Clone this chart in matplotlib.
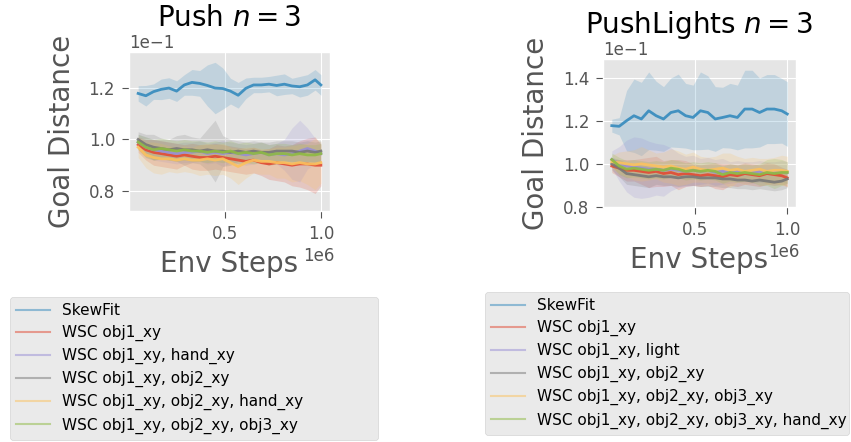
import numpy as np
import matplotlib
matplotlib.use("Agg")
import matplotlib.pyplot as plt

# --- Данные (ось y в единицах 1e-1, ось x в единицах 1e6) ---
steps = [0.05, 0.09, 0.13, 0.17, 0.21, 0.25, 0.29, 0.33, 0.37, 0.41, 0.45, 0.49, 0.53,
         0.57, 0.61, 0.65, 0.69, 0.73, 0.77, 0.81, 0.85, 0.89, 0.93, 0.97, 1.00]

push_labels = ["SkewFit", "WSC obj1_xy", "WSC obj1_xy, hand_xy", "WSC obj1_xy, obj2_xy",
               "WSC obj1_xy, obj2_xy, hand_xy", "WSC obj1_xy, obj2_xy, obj3_xy"]
lights_labels = ["SkewFit", "WSC obj1_xy", "WSC obj1_xy, light", "WSC obj1_xy, obj2_xy",
                 "WSC obj1_xy, obj2_xy, obj3_xy", "WSC obj1_xy, obj2_xy, obj3_xy, hand_xy"]

# Push n=3
push_skewfit = [1.179, 1.170, 1.186, 1.195, 1.200, 1.188, 1.212, 1.222, 1.218, 1.210, 1.200, 1.198, 1.188,
                1.172, 1.199, 1.212, 1.212, 1.215, 1.210, 1.215, 1.208, 1.205, 1.212, 1.232, 1.212]
push_skewfit_sd = [0.03, 0.04, 0.03, 0.04, 0.04, 0.04, 0.04, 0.05, 0.05, 0.08, 0.10, 0.08, 0.05,
                   0.05, 0.04, 0.03, 0.03, 0.03, 0.04, 0.04, 0.03, 0.04, 0.04, 0.04, 0.04]
push_obj1 = [0.98, 0.96, 0.95, 0.945, 0.94, 0.935, 0.94, 0.935, 0.93, 0.93, 0.935, 0.93, 0.925,
             0.92, 0.915, 0.92, 0.91, 0.905, 0.91, 0.905, 0.90, 0.905, 0.905, 0.90, 0.90]
push_obj1_sd = [0.03, 0.04, 0.05, 0.05, 0.05, 0.05, 0.04, 0.05, 0.05, 0.05, 0.05, 0.05, 0.05,
                0.05, 0.05, 0.05, 0.05, 0.06, 0.07, 0.07, 0.08, 0.09, 0.10, 0.11, 0.08]
push_obj1_hand = [0.99, 0.97, 0.96, 0.955, 0.95, 0.945, 0.95, 0.95, 0.955, 0.945, 0.95, 0.945, 0.95,
                  0.945, 0.94, 0.945, 0.95, 0.94, 0.945, 0.94, 0.945, 0.955, 0.965, 0.955, 0.945]
push_obj1_hand_sd = [0.03, 0.04, 0.04, 0.04, 0.04, 0.04, 0.04, 0.04, 0.04, 0.04, 0.04, 0.05, 0.04,
                     0.04, 0.04, 0.04, 0.04, 0.04, 0.04, 0.06, 0.10, 0.12, 0.08, 0.05, 0.04]
push_obj1_obj2 = [1.00, 0.98, 0.97, 0.965, 0.96, 0.965, 0.96, 0.96, 0.955, 0.96, 0.955, 0.955, 0.95,
                  0.955, 0.95, 0.955, 0.95, 0.95, 0.955, 0.955, 0.955, 0.95, 0.955, 0.95, 0.955]
push_obj1_obj2_sd = [0.03, 0.04, 0.05, 0.04, 0.04, 0.05, 0.06, 0.05, 0.05, 0.08, 0.12, 0.06, 0.05,
                     0.04, 0.04, 0.04, 0.04, 0.04, 0.04, 0.04, 0.04, 0.04, 0.04, 0.04, 0.04]
push_obj12_hand = [0.97, 0.94, 0.93, 0.925, 0.925, 0.92, 0.925, 0.92, 0.92, 0.925, 0.92, 0.925, 0.91,
                   0.895, 0.91, 0.92, 0.915, 0.915, 0.91, 0.91, 0.905, 0.91, 0.905, 0.905, 0.91]
push_obj12_hand_sd = [0.04, 0.05, 0.06, 0.06, 0.05, 0.05, 0.05, 0.05, 0.06, 0.06, 0.06, 0.06, 0.06,
                      0.07, 0.06, 0.05, 0.05, 0.05, 0.06, 0.06, 0.07, 0.07, 0.08, 0.10, 0.08]
push_obj123 = [0.99, 0.97, 0.96, 0.965, 0.96, 0.955, 0.96, 0.955, 0.955, 0.95, 0.955, 0.95, 0.955,
               0.945, 0.95, 0.945, 0.95, 0.94, 0.945, 0.945, 0.94, 0.945, 0.94, 0.94, 0.945]
push_obj123_sd = [0.03, 0.04, 0.04, 0.04, 0.04, 0.04, 0.04, 0.04, 0.04, 0.04, 0.04, 0.04, 0.04,
                  0.04, 0.04, 0.04, 0.04, 0.04, 0.04, 0.04, 0.04, 0.04, 0.04, 0.04, 0.04]

# PushLights n=3
pl_skewfit = [1.177, 1.174, 1.200, 1.223, 1.208, 1.246, 1.223, 1.208, 1.238, 1.246, 1.223, 1.215, 1.246,
              1.238, 1.208, 1.215, 1.223, 1.215, 1.254, 1.254, 1.238, 1.254, 1.254, 1.246, 1.231]
pl_skewfit_sd = [0.03, 0.04, 0.14, 0.17, 0.17, 0.18, 0.16, 0.15, 0.16, 0.17, 0.15, 0.15, 0.18,
                 0.17, 0.15, 0.14, 0.15, 0.15, 0.18, 0.18, 0.16, 0.16, 0.16, 0.15, 0.15]
pl_obj1 = [0.99, 0.98, 0.97, 0.97, 0.965, 0.96, 0.965, 0.955, 0.96, 0.95, 0.955, 0.95, 0.945,
           0.95, 0.945, 0.94, 0.95, 0.945, 0.955, 0.95, 0.945, 0.955, 0.95, 0.945, 0.935]
pl_obj1_sd = [0.03, 0.04, 0.05, 0.05, 0.06, 0.07, 0.07, 0.06, 0.06, 0.07, 0.06, 0.05, 0.05,
              0.05, 0.06, 0.06, 0.05, 0.05, 0.05, 0.05, 0.05, 0.05, 0.05, 0.04, 0.04]
pl_obj1_light = [1.02, 1.00, 0.99, 0.985, 0.98, 0.975, 0.975, 0.97, 0.975, 0.97, 0.965, 0.97, 0.965,
                 0.97, 0.96, 0.965, 0.96, 0.965, 0.96, 0.96, 0.965, 0.96, 0.96, 0.965, 0.96]
pl_obj1_light_sd = [0.04, 0.08, 0.12, 0.14, 0.14, 0.13, 0.12, 0.12, 0.10, 0.08, 0.07, 0.07, 0.06,
                    0.06, 0.06, 0.06, 0.05, 0.05, 0.05, 0.05, 0.05, 0.05, 0.05, 0.05, 0.05]
pl_obj1_obj2 = [1.00, 0.98, 0.955, 0.95, 0.945, 0.94, 0.945, 0.94, 0.94, 0.935, 0.94, 0.94, 0.935,
                0.935, 0.935, 0.93, 0.93, 0.925, 0.925, 0.92, 0.925, 0.92, 0.915, 0.92, 0.93]
pl_obj1_obj2_sd = [0.03, 0.04, 0.05, 0.05, 0.05, 0.05, 0.04, 0.04, 0.04, 0.04, 0.04, 0.04, 0.04,
                   0.04, 0.04, 0.04, 0.04, 0.04, 0.04, 0.04, 0.04, 0.04, 0.04, 0.04, 0.04]
pl_obj123 = [1.01, 1.005, 1.00, 0.995, 1.00, 0.995, 0.99, 0.985, 0.99, 0.98, 0.975, 0.985, 0.975,
             0.97, 0.975, 0.98, 0.97, 0.975, 0.965, 0.97, 0.975, 0.965, 0.97, 0.97, 0.965]
pl_obj123_sd = [0.03, 0.05, 0.06, 0.07, 0.08, 0.07, 0.06, 0.07, 0.08, 0.08, 0.07, 0.07, 0.06,
                0.06, 0.06, 0.07, 0.08, 0.06, 0.06, 0.06, 0.05, 0.06, 0.06, 0.07, 0.07]
pl_obj123_hand = [1.02, 0.99, 0.975, 0.98, 0.975, 0.97, 0.975, 0.97, 0.98, 0.975, 0.965, 0.97, 0.965,
                  0.97, 0.965, 0.95, 0.96, 0.955, 0.96, 0.955, 0.95, 0.96, 0.955, 0.96, 0.96]
pl_obj123_hand_sd = [0.03, 0.04, 0.04, 0.04, 0.04, 0.04, 0.04, 0.04, 0.04, 0.04, 0.04, 0.04, 0.04,
                     0.04, 0.04, 0.04, 0.04, 0.04, 0.04, 0.04, 0.05, 0.06, 0.07, 0.06, 0.05]

COLORS = ['#348ABD', '#E24A33', '#988ED5', '#777777', '#FBC15E', '#8EBA42']

plt.style.use('ggplot')
plt.rcParams['font.family'] = ['DejaVu Sans']


def draw_panel(ax, title, labels, means, sds, ylim):
    x = np.array(steps) * 1e6
    for i, (m, s) in enumerate(zip(means, sds)):
        m = np.array(m) * 0.1
        s = np.array(s) * 0.1
        ax.fill_between(x, m - s, m + s, color=COLORS[i], alpha=0.2, linewidth=0)
        ax.plot(x, m, color=COLORS[i], lw=2, alpha=0.9, label=labels[i])
    ax.set_ylim(*ylim)
    ax.ticklabel_format(axis='both', style='sci', scilimits=(0, 0))
    ax.tick_params(labelsize=12, length=5, pad=5)
    ax.yaxis.get_offset_text().set_fontsize(12)
    ax.xaxis.get_offset_text().set_fontsize(12)
    ax.xaxis.get_offset_text().set_x(1.02)  # чуть правее подписи оси
    ax.set_xlabel("Env Steps", fontsize=20, labelpad=5)
    ax.set_ylabel("Goal Distance", fontsize=20, labelpad=9)
    ax.set_title(title, fontsize=20, color='black')


fig = plt.figure(figsize=(8.51, 4.42), dpi=100)
ax1 = fig.add_axes([0.1516, 0.5226, 0.2362, 0.3597])
ax2 = fig.add_axes([0.7086, 0.5317, 0.2268, 0.3348])

draw_panel(ax1, "Push $n = 3$", push_labels,
           [push_skewfit, push_obj1, push_obj1_hand, push_obj1_obj2, push_obj12_hand, push_obj123],
           [push_skewfit_sd, push_obj1_sd, push_obj1_hand_sd, push_obj1_obj2_sd,
            push_obj12_hand_sd, push_obj123_sd],
           (0.0722, 0.134))
draw_panel(ax2, "PushLights $n = 3$", lights_labels,
           [pl_skewfit, pl_obj1, pl_obj1_light, pl_obj1_obj2, pl_obj123, pl_obj123_hand],
           [pl_skewfit_sd, pl_obj1_sd, pl_obj1_light_sd, pl_obj1_obj2_sd, pl_obj123_sd,
            pl_obj123_hand_sd],
           (0.080, 0.1486))

# --- Легенды под графиками ---
for ax, (x0, top, w) in [(ax1, (10 / 851, 1 - 297 / 442, 368 / 851)),
                         (ax2, (485 / 851, 1 - 292 / 442, 364 / 851))]:
    leg = fig.legend(*ax.get_legend_handles_labels(), loc='upper left',
                     bbox_to_anchor=(x0, 0, w, top), bbox_transform=fig.transFigure,
                     mode='expand', borderaxespad=0, fontsize=11, labelspacing=0.45,
                     handlelength=2.2)
    for h in leg.legend_handles:
        h.set_alpha(0.5)
        h.set_linewidth(1.5)

fig.savefig("out.png", dpi=100)
